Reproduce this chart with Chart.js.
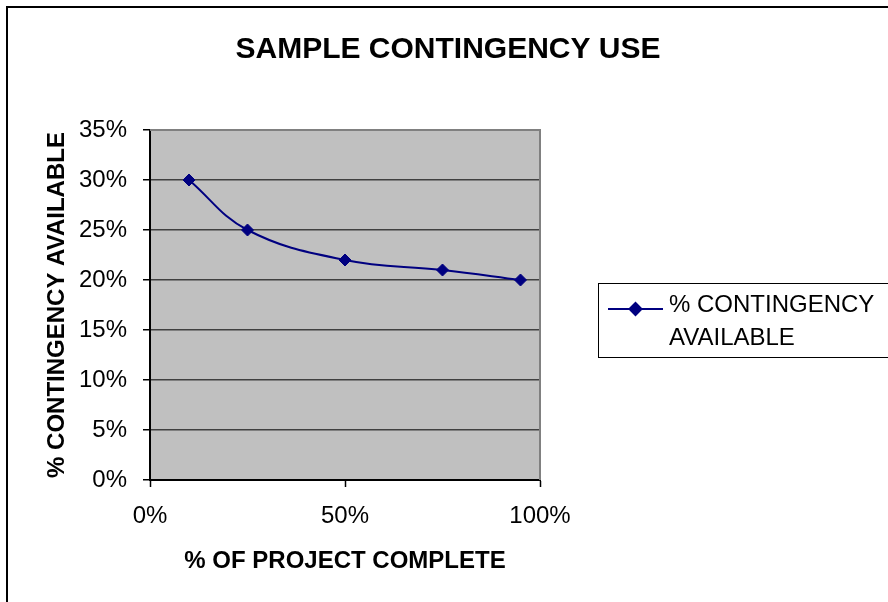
<!DOCTYPE html>
<html>
<head>
<meta charset="utf-8">
<title>Sample Contingency Use</title>
<script src="https://cdn.jsdelivr.net/npm/chart.js@4.4.1/dist/chart.umd.min.js"></script>
<style>
    html, body { margin: 0; padding: 0; background: #fff; }
    #wrap { width: 888px; height: 602px; }
</style>
</head>
<body>
<div id="wrap"><canvas id="graficoContingencia" width="888" height="602"></canvas></div>
<script>
// valores
const projectComplete = [0.10, 0.25, 0.50, 0.75, 0.95];
const contingencyAvailable = [0.30, 0.25, 0.22, 0.21, 0.20];
const xTicks = [0, 0.5, 1];
const yTicks = [0, 0.05, 0.10, 0.15, 0.20, 0.25, 0.30, 0.35];

const chartTitle = 'SAMPLE CONTINGENCY USE';
const seriesLabel = '% CONTINGENCY AVAILABLE';
const xTitle = '% OF PROJECT COMPLETE';
const yTitle = '% CONTINGENCY AVAILABLE';

const FONT = "'Liberation Sans', Arial, sans-serif";
const NAVY = '#000080';

function pct(v) {
    return Math.round(v * 100) + '%';
}

// fundo cinza da área do gráfico, bordas e legenda em caixa
const excelLook = {
    id: 'excelLook',
    beforeDraw(chart) {
        const { ctx, chartArea: a } = chart;
        ctx.save();
        ctx.fillStyle = '#C0C0C0';
        ctx.fillRect(a.left, a.top, a.right - a.left, a.bottom - a.top);
        ctx.restore();
    },
    beforeDatasetsDraw(chart) {
        const { ctx, chartArea: a } = chart;
        ctx.save();
        ctx.strokeStyle = '#808080';
        ctx.lineWidth = 2;
        ctx.beginPath();
        ctx.moveTo(a.left, a.top);
        ctx.lineTo(a.right, a.top);
        ctx.lineTo(a.right, a.bottom);
        ctx.stroke();
        ctx.restore();
    },
    afterDraw(chart) {
        const ctx = chart.ctx;
        const ds = chart.data.datasets[0];
        ctx.save();
        // moldura externa (cortada à direita e embaixo)
        ctx.strokeStyle = '#000';
        ctx.lineWidth = 2;
        ctx.strokeRect(7, 7, 920, 640);

        // legenda
        ctx.lineWidth = 1;
        ctx.strokeStyle = '#000';
        ctx.strokeRect(598.5, 283.5, 320, 74);

        ctx.strokeStyle = ds.borderColor;
        ctx.lineWidth = 2;
        ctx.beginPath();
        ctx.moveTo(608, 309);
        ctx.lineTo(663, 309);
        ctx.stroke();
        Chart.helpers.drawPoint(ctx, {
            pointStyle: 'rectRot',
            radius: 6,
            borderWidth: 1
        }, 635.5, 309);
        ctx.fillStyle = ds.backgroundColor;
        ctx.fill();

        const cut = ds.label.lastIndexOf(' ');
        const lines = [ds.label.slice(0, cut), ds.label.slice(cut + 1)];
        ctx.fillStyle = '#000';
        ctx.font = '24px ' + FONT;
        ctx.textBaseline = 'middle';
        ctx.textAlign = 'left';
        ctx.fillText(lines[0], 669, 305);
        ctx.fillText(lines[1], 669, 338);
        ctx.restore();
    }
};

const ctx = document.getElementById('graficoContingencia').getContext('2d');

new Chart(ctx, {
    type: 'line',
    data: {
        datasets: [{
            label: seriesLabel,
            data: projectComplete.map((x, i) => ({ x: x, y: contingencyAvailable[i] })),
            borderColor: NAVY,
            backgroundColor: NAVY,
            borderWidth: 2,
            tension: 0.4,
            pointStyle: 'rectRot',
            pointRadius: 6,
            pointBorderWidth: 1,
            pointBackgroundColor: NAVY,
            pointBorderColor: NAVY
        }]
    },
    options: {
        responsive: false,
        animation: false,
        layout: {
            padding: { left: 8, right: 0, top: 8, bottom: 0 }
        },
        plugins: {
            legend: { display: false },
            tooltip: { enabled: false },
            title: {
                display: true,
                text: chartTitle,
                color: '#000',
                font: { family: FONT, size: 30, weight: 'bold', lineHeight: 1.2 },
                padding: { top: 24, bottom: 62 }
            }
        },
        scales: {
            x: {
                type: 'linear',
                min: 0,
                max: 1,
                afterBuildTicks: s => { s.ticks = xTicks.map(v => ({ value: v })); },
                afterFit: s => { s.height = 122; },
                grid: {
                    drawOnChartArea: false,
                    drawTicks: true,
                    tickLength: 7,
                    tickColor: '#000',
                    tickWidth: 1.5
                },
                border: { color: '#000', width: 2 },
                ticks: {
                    padding: 15,
                    color: '#000',
                    font: { family: FONT, size: 24 },
                    callback: v => pct(v)
                },
                title: {
                    display: true,
                    text: xTitle,
                    color: '#000',
                    font: { family: FONT, size: 24, weight: 'bold', lineHeight: 1.2 },
                    padding: { top: 0, bottom: 26 }
                }
            },
            y: {
                type: 'linear',
                min: 0,
                max: 0.35,
                afterBuildTicks: s => { s.ticks = yTicks.map(v => ({ value: v })); },
                afterFit: s => { s.width = 142; },
                grid: {
                    color: '#404040',
                    lineWidth: 1.5,
                    drawTicks: true,
                    tickLength: 7,
                    tickColor: '#000',
                    tickWidth: 1.5
                },
                border: { color: '#000', width: 2 },
                ticks: {
                    padding: 16,
                    color: '#000',
                    font: { family: FONT, size: 24 },
                    callback: v => pct(v)
                },
                title: {
                    display: true,
                    text: yTitle,
                    color: '#000',
                    font: { family: FONT, size: 24, weight: 'bold', lineHeight: 1.2 },
                    padding: { top: 35, bottom: 0 }
                }
            },
            // eixo vazio à direita só para reservar o espaço da legenda
            espaco: {
                type: 'linear',
                position: 'right',
                display: true,
                grid: { display: false },
                border: { display: false },
                ticks: { display: false },
                afterFit: s => { s.width = 348; }
            }
        }
    },
    plugins: [excelLook]
});
</script>
</body>
</html>
